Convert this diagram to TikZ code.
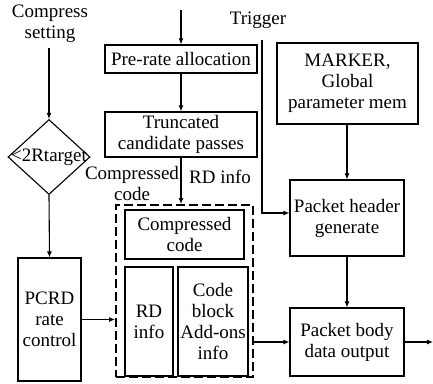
\documentclass[tikz,border=0pt]{standalone}
\usepackage{fontspec}
\setmainfont{Liberation Serif}
\newfontfamily\diagfont{Liberation Serif}
\usetikzlibrary{shapes.geometric,arrows.meta}
\begin{document}
\begin{tikzpicture}[x=1pt,y=-1pt,
  box/.style={draw,line width=1.1pt,rectangle,inner sep=0pt,align=center},
  lbl/.style={align=center,inner sep=0pt},
  arr/.style={line width=1.1pt,-{Latex[length=6pt,width=5pt]}},
  every node/.style={font=\diagfont\fontsize{19}{21}\selectfont}]
\useasboundingbox (0,0) rectangle (433,383);
% left column
\node[lbl] (cs) at (50,24) {Compress\\setting};
\coordinate (csb) at (49,48);
\node[draw,line width=1.1pt,diamond,minimum width=82pt,minimum height=75pt,inner sep=0pt] (dia) at (49,157) {};
\node[lbl] (diat) at (dia) {<2Rtarget};
\node[box,minimum width=63pt,minimum height=123pt] (pcrd) at (49.5,319.5) {PCRD\\rate\\control};
% middle column
\coordinate (in) at (181,10);
\node[box,minimum width=152pt,minimum height=28pt] (pre) at (181,59) {Pre-rate allocation};
\node[box,minimum width=152pt,minimum height=45pt] (trunc) at (181,134.5) {Truncated\\candidate passes};
\node[draw,dashed,dash pattern=on 9pt off 4pt,line width=2pt,minimum width=137pt,minimum height=172pt,inner sep=0pt] (dash) at (184.5,291) {};
\node[box,minimum width=119pt,minimum height=49pt] (cc) at (184.5,234.5) {Compressed\\code};
\node[box,minimum width=48pt,minimum height=109pt] (rd) at (149,321.5) {RD\\info};
\node[box,minimum width=70pt,minimum height=109pt] (cb) at (213,321.5) {Code\\block\\Add-ons\\info};
\node[lbl] (lcc) at (132,183) {Compressed\\code};
\node[lbl] (lrd) at (220,177) {RD info};
% right column
\node[lbl] (trig) at (258,20) {Trigger};
\coordinate (tr) at (262,40);
\node[box,minimum width=141pt,minimum height=81pt] (mark) at (347.5,83.5) {MARKER,\\Global\\parameter mem};
\node[box,minimum width=114pt,minimum height=76pt] (hdr) at (347,218) {Packet header\\generate};
\node[box,minimum width=114pt,minimum height=68pt] (body) at (347,342) {Packet body\\data output};
\coordinate (out) at (433,342);
% connectors
\draw[arr] (csb) -- (dia.north);
\draw[arr] (dia.south) -- (pcrd.north);
\draw[arr] (pcrd.east) -- (pcrd.east -| dash.west);
\draw[arr] (in) -- (pre.north);
\draw[arr] (pre.south) -- (trunc.south |- trunc.north);
\draw[arr] (trunc.south) -- (trunc.south |- dash.north);
\draw[arr] (tr) -- (262,213) -- (hdr.west |- 0,213);
\draw[arr] (mark.south -| hdr.north) -- (hdr.north);
\draw[arr] (hdr.south) -- (body.north);
\draw[arr] (body.west -| dash.east) -- (body.west);
\draw[arr] (body.east) -- (out);
\end{tikzpicture}
\end{document}
